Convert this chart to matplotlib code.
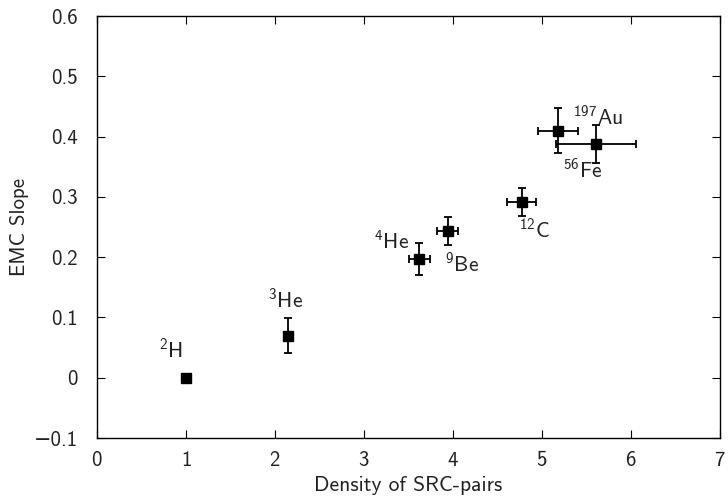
import matplotlib
matplotlib.use('Agg')
import matplotlib.pyplot as plt
from matplotlib.ticker import FixedLocator, FixedFormatter

plt.rcParams['font.family'] = ['cmss10', 'DejaVu Sans']
plt.rcParams['mathtext.fontset'] = 'custom'
plt.rcParams['mathtext.rm'] = 'cmss10'
plt.rcParams['mathtext.it'] = 'cmss10'
plt.rcParams['mathtext.sf'] = 'cmss10'
plt.rcParams['axes.formatter.use_mathtext'] = True

# data
nuclei = [r'$^{2}$H', r'$^{3}$He', r'$^{4}$He', r'$^{9}$Be', r'$^{12}$C', r'$^{197}$Au', r'$^{56}$Fe']
density = [1.00, 2.15, 3.62, 3.94, 4.77, 5.18, 5.61]
density_err = [0.0, 0.0, 0.12, 0.12, 0.16, 0.22, 0.45]
slope = [0.000, 0.070, 0.197, 0.243, 0.292, 0.410, 0.388]
slope_err = [0.0, 0.029, 0.026, 0.023, 0.023, 0.038, 0.032]

# label positions (data coords)
label_x = [0.83, 2.11, 3.30, 4.10, 4.91, 5.62, 5.45]
label_y = [0.045, 0.128, 0.226, 0.188, 0.245, 0.431, 0.344]

xticks = [0, 1, 2, 3, 4, 5, 6, 7]
yticks = [-0.1, 0, 0.1, 0.2, 0.3, 0.4, 0.5, 0.6]
ytick_labels = ['\u22120.1', '0', '0.1', '0.2', '0.3', '0.4', '0.5', '0.6']

fig = plt.figure(figsize=(7.28, 4.97), dpi=100)
ax = fig.add_axes([97 / 728, 1 - 438 / 497, (720 - 97) / 728, (438 - 16) / 497])

ax.errorbar(density, slope, xerr=density_err, yerr=slope_err, fmt='s', color='black',
            markersize=6.5, elinewidth=1.3, capsize=3, capthick=1.3)

for name, lx, ly in zip(nuclei, label_x, label_y):
    ax.text(lx, ly, name, ha='center', va='center', fontsize=15.5, color='#222222')

ax.set_xlim(0, 7)
ax.set_ylim(-0.1, 0.6)
ax.xaxis.set_major_locator(FixedLocator(xticks))
ax.yaxis.set_major_locator(FixedLocator(yticks))
ax.yaxis.set_major_formatter(FixedFormatter(ytick_labels))
ax.tick_params(direction='in', top=True, right=True, length=6, width=0.8,
               labelsize=15, labelcolor='#222222')
ax.tick_params(axis='x', pad=9)
ax.tick_params(axis='y', pad=14)
for s in ax.spines.values():
    s.set_linewidth(1.0)

ax.set_xlabel('Density of SRC-pairs', fontsize=15.5, labelpad=4, color='#222222')
ax.set_ylabel('EMC Slope', fontsize=15, color='#222222', va='center')
ax.yaxis.set_label_coords(-0.125, 0.5)

fig.savefig('out.png', dpi=100)
